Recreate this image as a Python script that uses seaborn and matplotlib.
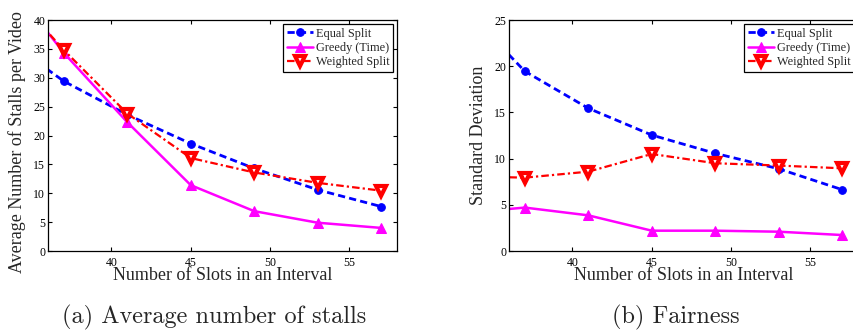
import numpy as np
import pandas as pd
import matplotlib
matplotlib.use("Agg")
import matplotlib.pyplot as plt
import seaborn as sns

# Number of slots per interval (33 lies just outside the visible x-range)
slots = [33, 37, 41, 45, 49, 53, 57]

# (a) average number of stalls per video
stalls_equal = [37.3, 29.4, 23.6, 18.6, 14.3, 10.6, 7.7]
stalls_greedy = [48.3, 34.3, 22.3, 11.4, 6.9, 4.9, 4.0]
stalls_weighted = [47.0, 34.8, 23.8, 16.1, 13.6, 11.8, 10.45]

# (b) standard deviation of stalls (fairness)
std_equal = [26.6, 19.45, 15.45, 12.55, 10.57, 8.9, 6.64]
std_greedy = [4.1, 4.7, 3.86, 2.2, 2.2, 2.09, 1.73]
std_weighted = [8.1, 7.94, 8.59, 10.5, 9.5, 9.25, 8.95]

series_names = ["Equal Split", "Greedy (Time)", "Weighted Split"]
x_ticks = [40, 45, 50, 55]
x_label = "Number of Slots in an Interval"
y_labels = ["Average Number of Stalls per Video", "Standard Deviation"]
y_ticks = [[0, 5, 10, 15, 20, 25, 30, 35, 40], [0, 5, 10, 15, 20, 25]]
captions = ["(a) Average number of stalls", "(b) Fairness"]

sns.set_style("ticks")
plt.rcParams["font.family"] = ["Liberation Serif", "DejaVu Serif"]

styles = {
    "Equal Split": dict(color="#0000ff", linestyle=(0, (2.6, 1.5)), linewidth=2.0,
                        marker="o", markersize=5.5, markerfacecolor="#0000ff",
                        markeredgecolor="#0000ff"),
    "Greedy (Time)": dict(color="#ff00ff", linestyle="-", linewidth=1.8,
                          marker="^", markersize=7.5, markerfacecolor="#ff00ff",
                          markeredgecolor="#ff00ff"),
    "Weighted Split": dict(color="#ff0000", linestyle=(0, (3.4, 1.4, 1.0, 1.4)),
                           linewidth=1.6, marker="v", markersize=7.5,
                           markerfacecolor="white", markeredgecolor="#ff0000",
                           markeredgewidth=3.0),
}


def frame(values):
    return pd.DataFrame({
        "slots": slots * 3,
        "value": values[0] + values[1] + values[2],
        "method": sum([[n] * len(slots) for n in series_names], []),
    })


panels = [
    frame([stalls_equal, stalls_greedy, stalls_weighted]),
    frame([std_equal, std_greedy, std_weighted]),
]
ylims = [(0, 40), (0, 25)]
ylabel_y = [0.47, 0.5]

fig = plt.figure(figsize=(8.54, 3.33), dpi=100)
ax_pos = [[0.0562, 0.2462, 0.4087, 0.6937], [0.596, 0.2462, 0.4087, 0.6937]]

for i, df in enumerate(panels):
    ax = fig.add_axes(ax_pos[i])
    for name in series_names:
        sub = df[df["method"] == name]
        sns.lineplot(data=sub, x="slots", y="value", ax=ax, label=name,
                     estimator=None, sort=False, **styles[name])
    ax.set_xlim(36, 58)
    ax.set_ylim(*ylims[i])
    ax.set_xticks(x_ticks)
    ax.set_yticks(y_ticks[i])
    ax.tick_params(direction="in", top=True, right=True, length=3, width=0.8,
                   labelsize=8.5, colors="black")
    ax.tick_params(axis="x", pad=4)
    ax.tick_params(axis="y", pad=2)
    for s in ax.spines.values():
        s.set_linewidth(0.9)
        s.set_color("black")
    ax.set_xlabel(x_label, fontsize=13, va="top")
    ax.set_ylabel(y_labels[i], fontsize=13)
    ax.xaxis.set_label_coords(0.5, -0.07)
    ax.yaxis.set_label_coords(-0.064, ylabel_y[i])
    leg = ax.legend(loc="upper right", bbox_to_anchor=(0.989, 0.983),
                    borderaxespad=0, fontsize=8.8, handlelength=2.2,
                    handletextpad=0.2, labelspacing=0.18, borderpad=0.3,
                    fancybox=False, framealpha=1, edgecolor="black", numpoints=1)
    leg.get_frame().set_linewidth(0.9)

fig.text(214 / 854, 1 - 323 / 333, captions[0], family="cmr10", fontsize=17.5,
         ha="center", va="baseline")
fig.text(676 / 854, 1 - 323 / 333, captions[1], family="cmr10", fontsize=17.5,
         ha="center", va="baseline")

fig.savefig("out.png", dpi=100)
